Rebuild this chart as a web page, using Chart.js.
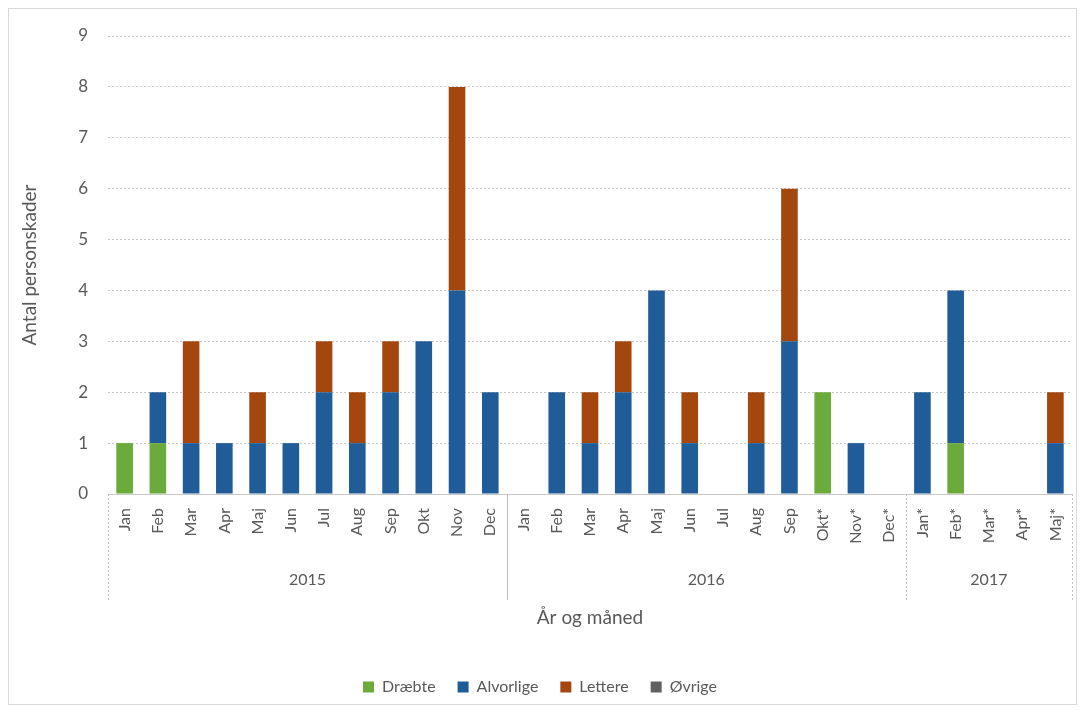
<!DOCTYPE html>
<html>
<head>
<meta charset="utf-8">
<script src="https://cdn.jsdelivr.net/npm/chart.js@4.4.1/dist/chart.umd.min.js"></script>
<style>
    html, body { margin: 0; padding: 0; background: #fff; }
    #wrap { position: relative; width: 1086px; height: 713px; }
    #frame { position: absolute; left: 8px; top: 8px; width: 1069px; height: 697px; border: 1px solid #d9d9d9; box-sizing: border-box; }
    canvas { position: absolute; left: 0; top: 0; }
</style>
</head>
<body>
<div id="wrap">
    <div id="frame"></div>
    <canvas id="chart" width="1086" height="713"></canvas>
</div>
<script>
const months = ["Jan", "Feb", "Mar", "Apr", "Maj", "Jun", "Jul", "Aug", "Sep", "Okt", "Nov", "Dec",
    "Jan", "Feb", "Mar", "Apr", "Maj", "Jun", "Jul", "Aug", "Sep", "Okt*", "Nov*", "Dec*",
    "Jan*", "Feb*", "Mar*", "Apr*", "Maj*"];
const years = ["2015", "2016", "2017"];
const yearSizes = [12, 12, 5];

const draebte   = [1, 1, 0, 0, 0, 0, 0, 0, 0, 0, 0, 0,  0, 0, 0, 0, 0, 0, 0, 0, 0, 2, 0, 0,  0, 1, 0, 0, 0];
const alvorlige = [0, 1, 1, 1, 1, 1, 2, 1, 2, 3, 4, 2,  0, 2, 1, 2, 4, 1, 0, 1, 3, 0, 1, 0,  2, 3, 0, 0, 1];
const lettere   = [0, 0, 2, 0, 1, 0, 1, 1, 1, 0, 4, 0,  0, 0, 1, 1, 0, 1, 0, 1, 3, 0, 0, 0,  0, 0, 0, 0, 1];
const ovrige    = [0, 0, 0, 0, 0, 0, 0, 0, 0, 0, 0, 0,  0, 0, 0, 0, 0, 0, 0, 0, 0, 0, 0, 0,  0, 0, 0, 0, 0];

const yTicks = [0, 1, 2, 3, 4, 5, 6, 7, 8, 9];

const FONT = "Lato, 'Open Sans', sans-serif";
const TEXT = "#595959";

// year groups under the month labels
const yearGroups = {
    id: "yearGroups",
    afterDraw(chart) {
        const ctx = chart.ctx;
        const x = chart.scales.x;
        const step = x.width / months.length;
        const top = x.top;
        const bottom = 600;
        ctx.save();
        ctx.strokeStyle = "#bfbfbf";
        ctx.lineWidth = 1;
        let start = 0;
        const edges = [];
        yearSizes.forEach((n, i) => {
            const left = x.getPixelForValue(start) - step / 2;
            const right = x.getPixelForValue(start + n - 1) + step / 2;
            edges.push(left);
            if (i === yearSizes.length - 1) edges.push(right);
            ctx.fillStyle = TEXT;
            ctx.font = "16px " + FONT;
            ctx.textAlign = "center";
            ctx.textBaseline = "middle";
            ctx.fillText(years[i], (left + right) / 2, 580);
            start += n;
        });
        edges.forEach((ex, i) => {
            ctx.beginPath();
            ctx.setLineDash(i === 1 ? [] : [2, 2]);
            ctx.moveTo(Math.round(ex) + 0.5, top);
            ctx.lineTo(Math.round(ex) + 0.5, bottom);
            ctx.stroke();
        });
        ctx.restore();
    }
};

new Chart(document.getElementById("chart"), {
    type: "bar",
    data: {
        labels: months,
        datasets: [
            { label: "Dræbte", data: draebte, backgroundColor: "#6aab3c" },
            { label: "Alvorlige", data: alvorlige, backgroundColor: "#205d98" },
            { label: "Lettere", data: lettere, backgroundColor: "#a4470f" },
            { label: "Øvrige", data: ovrige, backgroundColor: "#616161" }
        ]
    },
    options: {
        responsive: false,
        animation: false,
        layout: { padding: { left: 8, right: 14, top: 36, bottom: 8 } },
        datasets: { bar: { categoryPercentage: 1, barPercentage: 0.5 } },
        plugins: {
            legend: {
                position: "bottom",
                labels: {
                    font: { family: FONT, size: 16 },
                    color: TEXT,
                    boxWidth: 11,
                    boxHeight: 11,
                    padding: 22
                }
            },
            tooltip: { enabled: false }
        },
        scales: {
            x: {
                stacked: true,
                grid: { display: false },
                border: { display: true, color: "#c8c8c8", dash: [2, 2] },
                ticks: {
                    color: TEXT,
                    font: { family: FONT, size: 16 },
                    minRotation: 90,
                    maxRotation: 90,
                    autoSkip: false,
                    padding: 6
                },
                title: {
                    display: true,
                    text: "År og måned",
                    color: TEXT,
                    font: { family: FONT, size: 19 },
                    padding: { top: 0, bottom: 28 }
                },
                afterFit(scale) { scale.height = 163; }
            },
            y: {
                stacked: true,
                min: 0,
                max: yTicks[yTicks.length - 1],
                afterBuildTicks(scale) { scale.ticks = yTicks.map(v => ({ value: v })); },
                grid: { color: "#c8c8c8", drawTicks: false },
                border: { display: false, dash: [2, 2] },
                ticks: {
                    color: TEXT,
                    font: { family: FONT, size: 17 },
                    padding: 20
                },
                title: {
                    display: true,
                    text: "Antal personskader",
                    color: TEXT,
                    font: { family: FONT, size: 19 },
                    padding: { top: 10, bottom: 12 }
                },
                afterFit(scale) { scale.width = 100; }
            }
        }
    },
    plugins: [yearGroups]
});
</script>
</body>
</html>
